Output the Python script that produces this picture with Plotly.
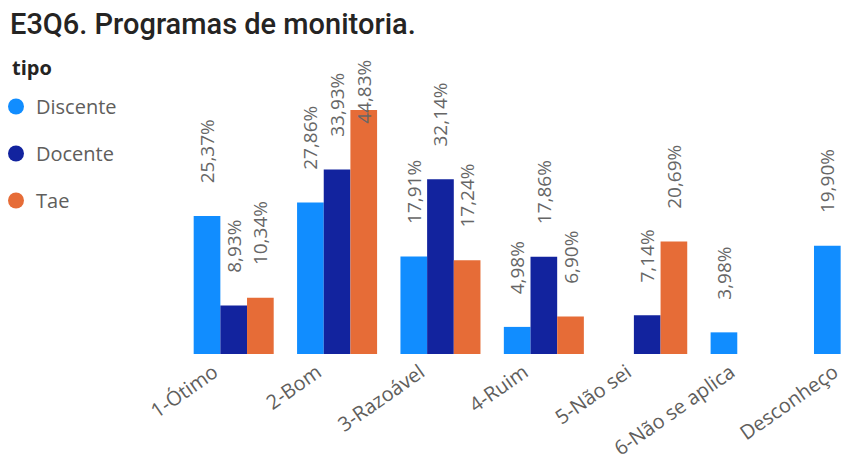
import plotly.graph_objects as go

# Categories and values (percent)
categories = ["1-Ótimo", "2-Bom", "3-Razoável", "4-Ruim", "5-Não sei", "6-Não se aplica", "Desconheço"]
discente = [25.37, 27.86, 17.91, 4.98, None, 3.98, 19.90]
docente = [8.93, 33.93, 32.14, 17.86, 7.14, None, None]
tae = [10.34, 44.83, 17.24, 6.90, 20.69, None, None]

series = [("Discente", discente, "#118DFF"),
          ("Docente", docente, "#12239E"),
          ("Tae", tae, "#E66C37")]

W, H = 846, 458          # page body adds an 8px margin
L, T, B = 174, 56, 112   # plot margins in px
PW, PH = W - L, H - T - B
BARGAP = 0.226
LABEL_FONT = dict(size=19, color="#666666", family="Open Sans")
PAD = "\u00a0" * 6       # gap between bar top and its label


def pct(v):
    return f"{v:.2f}%".replace(".", ",")


fig = go.Figure()
for idx, (name, vals, color) in enumerate(series):
    texts = []
    for v in vals:
        if v is None or v > 40:
            texts.append("")
        else:
            texts.append(PAD + pct(v))
    fig.add_trace(go.Bar(
        x=categories, y=vals, name=name,
        marker=dict(color=color, line=dict(width=0)),
        text=texts,
        textposition="outside", textangle=-90,
        textfont=LABEL_FONT,
        constraintext="none", cliponaxis=False,
        showlegend=False, hoverinfo="x+y",
    ))
    # legend entry with a round marker, like the original
    fig.add_trace(go.Scatter(
        x=[None], y=[None], mode="markers", name=name,
        marker=dict(symbol="circle", size=18, color=color),
        legendgroup=name, showlegend=True,
    ))

# the tallest label does not fit above its bar, so it overlaps the bar top
step = PW / 6.5
slot = step * (1 - BARGAP) / 3
for idx, (name, vals, color) in enumerate(series):
    for cat, v in zip(categories, vals):
        if v is not None and v > 40:
            fig.add_annotation(x=cat, y=v, xref="x", yref="y", text=pct(v),
                               textangle=-90, showarrow=False,
                               xanchor="center", yanchor="bottom",
                               xshift=(idx - 1) * slot, yshift=-16,
                               font=LABEL_FONT)

fig.add_annotation(text="<b>tipo</b>", xref="paper", yref="paper",
                   x=(2 - L) / PW, y=1 + (T - 59) / PH, xanchor="left", yanchor="middle",
                   showarrow=False, font=dict(size=20, color="#252423", family="Open Sans"))

fig.update_layout(
    width=W, height=H,
    plot_bgcolor="white", paper_bgcolor="white",
    margin=dict(l=L, r=0, t=T, b=B, autoexpand=False),
    barmode="group", bargap=BARGAP, bargroupgap=0,
    title=dict(text="E3Q6. Programas de monitoria.", xref="container", yref="container",
               x=2 / W, xanchor="left", y=1 - 16 / H, yanchor="middle",
               font=dict(family="Roboto", size=29, color="#252423", weight=500)),
    legend=dict(
        xref="paper", yref="paper", x=(-12 - L) / PW, y=1 + (T - 79) / PH,
        xanchor="left", yanchor="top",
        font=dict(size=20, color="#605E5C", family="Open Sans"),
        tracegroupgap=18, itemwidth=30,
    ),
    xaxis=dict(range=[-0.5, 6.0], showgrid=False, showline=False, zeroline=False,
               tickangle=-35, ticks="", ticklabelshift=-20, ticklabelstandoff=2,
               tickfont=dict(size=20, color="#605E5C", family="Open Sans")),
    yaxis=dict(range=[0, 53.3], visible=False),
)

fig.write_html("out.html")
